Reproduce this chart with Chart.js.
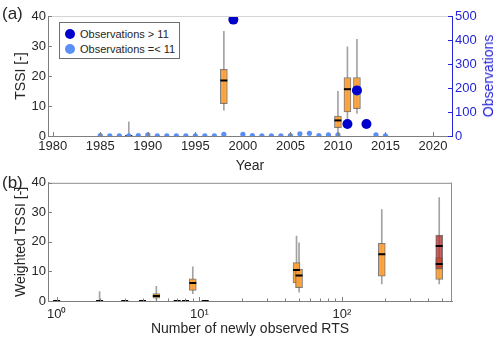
<!DOCTYPE html>
<html>
<head>
<meta charset="utf-8">
<script src="https://cdn.jsdelivr.net/npm/chart.js@4.4.1/dist/chart.umd.min.js"></script>
<style>
html,body{margin:0;padding:0;background:#fff;}
#wrap{position:relative;width:500px;height:347px;overflow:hidden;font-family:"Liberation Sans",Arial,sans-serif;color:#262626;}
canvas{position:absolute;left:0;}
.plabel{position:absolute;left:2px;font-size:17px;line-height:17px;}
#legend{position:absolute;left:59px;top:22px;width:119px;height:35px;border:1px solid #6e6e6e;background:#fff;font-size:11px;}
.li{position:absolute;left:0;height:14px;display:flex;align-items:center;white-space:nowrap;}
.mk{display:inline-block;width:10px;height:10px;border-radius:50%;margin-left:5px;margin-right:5px;}
#obsTitle{position:absolute;left:488px;top:76px;transform:translate(-50%,-50%) rotate(-90deg);font-size:14px;color:#2424D8;white-space:nowrap;}
</style>
</head>
<body>
<div id="wrap">
  <canvas id="ca" width="500" height="176" style="top:0"></canvas>
  <canvas id="cb" width="500" height="174" style="top:173px"></canvas>
  <div class="plabel" style="top:5px">(a)</div>
  <div class="plabel" style="top:174px">(b)</div>
  <div id="legend"></div>
  <div id="obsTitle">Observations</div>
</div>
<script>
// ---------------- Panel (a) data ----------------
const obsYears  = [1985,1986,1987,1988,1989,1990,1991,1992,1993,1994,1995,1996,1997,1998,1999,2000,
                   2001,2002,2003,2004,2005,2006,2007,2008,2009,2010,2011,2012,2013,2014,2015];
const obsCounts = [2,1,1,1,2,5,1,1,1,1,1,1,1,7,485,7,
                   2,1,1,1,2,9,11,2,5,5,50,190,50,5,1];
const obsThreshold = 11;

const boxYears = [1988, 1998, 2010, 2011, 2012];
const boxQ1    = [0,    10.8, 2.8,  8.0,  9.1];
const boxMed   = [0,    18.5, 5.2,  15.6, 15.5];
const boxQ3    = [0,    22.2, 6.6,  19.5, 19.5];
const boxLow   = [0,    8.6,  0.8,  5.8,  7.5];
const boxHigh  = [4.7,  34.9, 14.9, 29.7, 32.2];

const yearTicks = [1980,1985,1990,1995,2000,2005,2010,2015,2020];
const tssiTicks = [0,10,20,30,40];
const obsTicks  = [0,100,200,300,400,500];

// ---------------- Panel (b) data ----------------
const rtsN  = [1, 2,   3, 4, 5,   7, 8, 9,    11, 48,   50,   190,  480,  480];
const wQ1   = [0, 0,   0, 0, 1.0, 0, 0, 3.6,  0,  6.1,  4.5,  8.4,  7.3,  10.8];
const wMed  = [0, 0,   0, 0, 1.7, 0, 0, 6.1,  0,  10.5, 8.6,  15.8, 12.5, 18.6];
const wQ3   = [0, 0,   0, 0, 2.5, 0, 0, 7.5,  0,  13.0, 10.8, 19.5, 14.7, 22.3];
const wLow  = [0, 0,   0, 0, 0.3, 0, 0, 2.5,  0,  4.5,  3.0,  5.8,  5.8,  8.0];
const wHigh = [0, 3.2, 0, 0, 5.0, 0, 0, 11.6, 0,  22.0, 19.7, 30.9, 14.7, 35.0];
const wSet  = ['all','all','all','all','all','all','all','all','all','all','all','all','all','top'];

const rtsTicks = [1, 10, 100];

// ---------------- styles ----------------
const ORANGE = 'rgba(255,160,50,0.9)';
const RED = 'rgba(185,45,45,0.75)';
const BOXLINE = 'rgba(105,105,105,0.85)';
const WHISK = '#a3a3a3';
const AXIS = '#7f7f7f';
const BLUE_AX = '#2424D8';
const DARK_BLUE = '#0000CC';
const LIGHT_BLUE = '#5B8FF8';

Chart.defaults.font.family = '"Liberation Sans", Arial, sans-serif';
Chart.defaults.font.size = 13;
Chart.defaults.color = '#262626';

const frame = {
  id: 'frame',
  afterDraw(chart, args, opts) {
    const ctx = chart.ctx, a = chart.chartArea;
    ctx.save();
    ctx.lineWidth = 1;
    (opts.borders || []).forEach(b => {
      ctx.strokeStyle = b.color;
      ctx.beginPath();
      if (b.side === 'top') { ctx.moveTo(a.left, a.top + 0.5); ctx.lineTo(a.right, a.top + 0.5); }
      else { ctx.moveTo(a.right - 0.5, a.top); ctx.lineTo(a.right - 0.5, a.bottom); }
      ctx.stroke();
    });
    (opts.marks || []).forEach(t => {
      const s = chart.scales[t.scale];
      ctx.strokeStyle = t.color;
      ctx.beginPath();
      t.values.forEach(v => {
        if (v < s.min || v > s.max) return;
        const p = Math.round(s.getPixelForValue(v)) + 0.5;
        if (s.isHorizontal()) { ctx.moveTo(p, a.bottom); ctx.lineTo(p, a.bottom - t.len); }
        else if (s.position === 'right') { ctx.moveTo(a.right, p); ctx.lineTo(a.right - t.len, p); }
        else { ctx.moveTo(a.left, p); ctx.lineTo(a.left + t.len, p); }
      });
      ctx.stroke();
    });
    ctx.restore();
  }
};

function yScale(title) {
  return {
    type: 'linear', position: 'left', min: 0, max: 40,
    grid: {display: false, drawTicks: false},
    border: {display: true, color: AXIS, width: 1},
    ticks: {padding: 2, font: {size: 13}},
    afterBuildTicks: s => { s.ticks = tssiTicks.map(v => ({value: v})); },
    afterFit: s => { s.width = 48; },
    title: {display: true, text: title, font: {size: 14}, padding: {top: 12.5, bottom: 0}}
  };
}

// ---------------- Chart (a) ----------------
const bigPts = [], smallPts = [];
obsYears.forEach((yr, i) => {
  (obsCounts[i] > obsThreshold ? bigPts : smallPts).push({x: yr, y: obsCounts[i]});
});
const boxA = [], whA = [], medA = [];
boxYears.forEach((yr, i) => {
  if (boxHigh[i] > boxLow[i]) whA.push({x: yr, y: [boxLow[i], boxHigh[i]]});
  if (boxQ3[i] > boxQ1[i]) boxA.push({x: yr, y: [boxQ1[i], boxQ3[i]]});
  medA.push({x: yr, y: boxMed[i]});
});

const chartA = new Chart(document.getElementById('ca'), {
  type: 'bar',
  data: {
    datasets: [
      {type: 'scatter', label: 'Observations > 11', data: bigPts, xAxisID: 'x', yAxisID: 'y2',
       pointRadius: 5, pointBackgroundColor: DARK_BLUE, pointBorderWidth: 0, backgroundColor: DARK_BLUE, order: 0},
      {type: 'scatter', label: 'Observations =< 11', data: smallPts, xAxisID: 'x', yAxisID: 'y2',
       pointRadius: 2.6, pointBackgroundColor: LIGHT_BLUE, pointBorderWidth: 0, backgroundColor: LIGHT_BLUE, order: 0},
      {type: 'scatter', label: 'median', data: medA, xAxisID: 'x', yAxisID: 'y',
       pointStyle: 'line', pointRadius: 3.5, pointBorderColor: '#000', pointBorderWidth: 2, order: 1},
      {type: 'bar', label: 'box', data: boxA, xAxisID: 'x', yAxisID: 'y', barThickness: 7, grouped: false,
       backgroundColor: ORANGE, borderColor: BOXLINE, borderWidth: 1, borderSkipped: false, order: 2},
      {type: 'bar', label: 'whisker', data: whA, xAxisID: 'x', yAxisID: 'y', barThickness: 1, grouped: false,
       backgroundColor: WHISK, borderWidth: 0, order: 3}
    ]
  },
  options: {
    responsive: false, animation: false, devicePixelRatio: 1,
    layout: {padding: {top: 16, left: 0, right: 0, bottom: 0}},
    plugins: {
      legend: {display: false}, tooltip: {enabled: false},
      frame: {
        borders: [{side: 'top', color: '#d4d4d4'}],
        marks: [
          {scale: 'x', values: yearTicks, len: 4, color: AXIS},
          {scale: 'y', values: tssiTicks, len: 4, color: AXIS},
          {scale: 'y2', values: obsTicks, len: 4, color: BLUE_AX}
        ]
      }
    },
    scales: {
      x: {
        type: 'linear', min: 1979.5, max: 2022, offset: false,
        grid: {display: false, drawTicks: false, offset: false},
        border: {display: true, color: AXIS, width: 1},
        ticks: {padding: 3, font: {size: 13}, autoSkip: false, maxRotation: 0, callback: v => String(v)},
        afterBuildTicks: s => { s.ticks = yearTicks.map(v => ({value: v})); },
        afterFit: s => { s.height = 40; },
        title: {display: true, text: 'Year', font: {size: 14}, padding: {top: 0, bottom: 1}}
      },
      y: yScale('TSSI [-]'),
      y2: {
        type: 'linear', position: 'right', min: 0, max: 500,
        grid: {display: false, drawTicks: false},
        border: {display: true, color: BLUE_AX, width: 1},
        ticks: {padding: 3, font: {size: 13}, color: BLUE_AX},
        afterBuildTicks: s => { s.ticks = obsTicks.map(v => ({value: v})); },
        afterFit: s => { s.width = 48; },
        title: {display: false}
      }
    }
  },
  plugins: [frame]
});

// legend for (a) built from the dot datasets
const legendEl = document.getElementById('legend');
chartA.data.datasets.slice(0, 2).forEach((ds, i) => {
  const row = document.createElement('div');
  row.className = 'li';
  row.style.top = (4 + i * 14.5) + 'px';
  const mk = document.createElement('span');
  mk.className = 'mk';
  mk.style.background = ds.pointBackgroundColor;
  const tx = document.createElement('span');
  tx.textContent = ds.label;
  row.appendChild(mk); row.appendChild(tx);
  legendEl.appendChild(row);
});

// ---------------- Chart (b) ----------------
const boxB = [], boxColB = [], whB = [], medB = [];
rtsN.forEach((n, i) => {
  if (wHigh[i] > wLow[i]) whB.push({x: n, y: [wLow[i], wHigh[i]]});
  if (wQ3[i] > wQ1[i]) { boxB.push({x: n, y: [wQ1[i], wQ3[i]]}); boxColB.push(wSet[i] === 'top' ? RED : ORANGE); }
  medB.push({x: n, y: wMed[i]});
});
const SUP = ['\u2070', '\u00B9', '\u00B2', '\u00B3'];
const minorTicks = [];
rtsTicks.forEach(d => { for (let k = 2; k <= 9; k++) minorTicks.push(k * d); });

new Chart(document.getElementById('cb'), {
  type: 'bar',
  data: {
    datasets: [
      {type: 'scatter', label: 'median', data: medB, xAxisID: 'x', yAxisID: 'y',
       pointStyle: 'line', pointRadius: 3.5, pointBorderColor: '#000', pointBorderWidth: 2, order: 1},
      {type: 'bar', label: 'box', data: boxB, xAxisID: 'x', yAxisID: 'y', barThickness: 7, grouped: false,
       backgroundColor: boxColB, borderColor: BOXLINE, borderWidth: 1, borderSkipped: false, order: 2},
      {type: 'bar', label: 'whisker', data: whB, xAxisID: 'x', yAxisID: 'y', barThickness: 1, grouped: false,
       backgroundColor: WHISK, borderWidth: 0, order: 3}
    ]
  },
  options: {
    responsive: false, animation: false, devicePixelRatio: 1,
    layout: {padding: {top: 8, left: 0, right: 48, bottom: 0}},
    plugins: {
      legend: {display: false}, tooltip: {enabled: false},
      frame: {
        borders: [{side: 'top', color: '#8c8c8c'}, {side: 'right', color: '#8c8c8c'}],
        marks: [
          {scale: 'x', values: rtsTicks, len: 4, color: AXIS},
          {scale: 'x', values: minorTicks, len: 2.5, color: AXIS},
          {scale: 'y', values: tssiTicks, len: 4, color: AXIS}
        ]
      }
    },
    scales: {
      x: {
        type: 'logarithmic', min: 0.87, max: 590, offset: false,
        grid: {display: false, drawTicks: false, offset: false},
        border: {display: true, color: AXIS, width: 1},
        ticks: {padding: 6, font: {size: 13}, autoSkip: false, maxRotation: 0,
                callback: v => '10' + SUP[Math.round(Math.log10(v))]},
        afterBuildTicks: s => { s.ticks = rtsTicks.map(v => ({value: v})); },
        afterFit: s => { s.height = 46; },
        title: {display: true, text: 'Number of newly observed RTS', font: {size: 14}, padding: {top: 0, bottom: 9}}
      },
      y: yScale('Weighted TSSI [-]')
    }
  },
  plugins: [frame]
});
</script>
</body>
</html>
